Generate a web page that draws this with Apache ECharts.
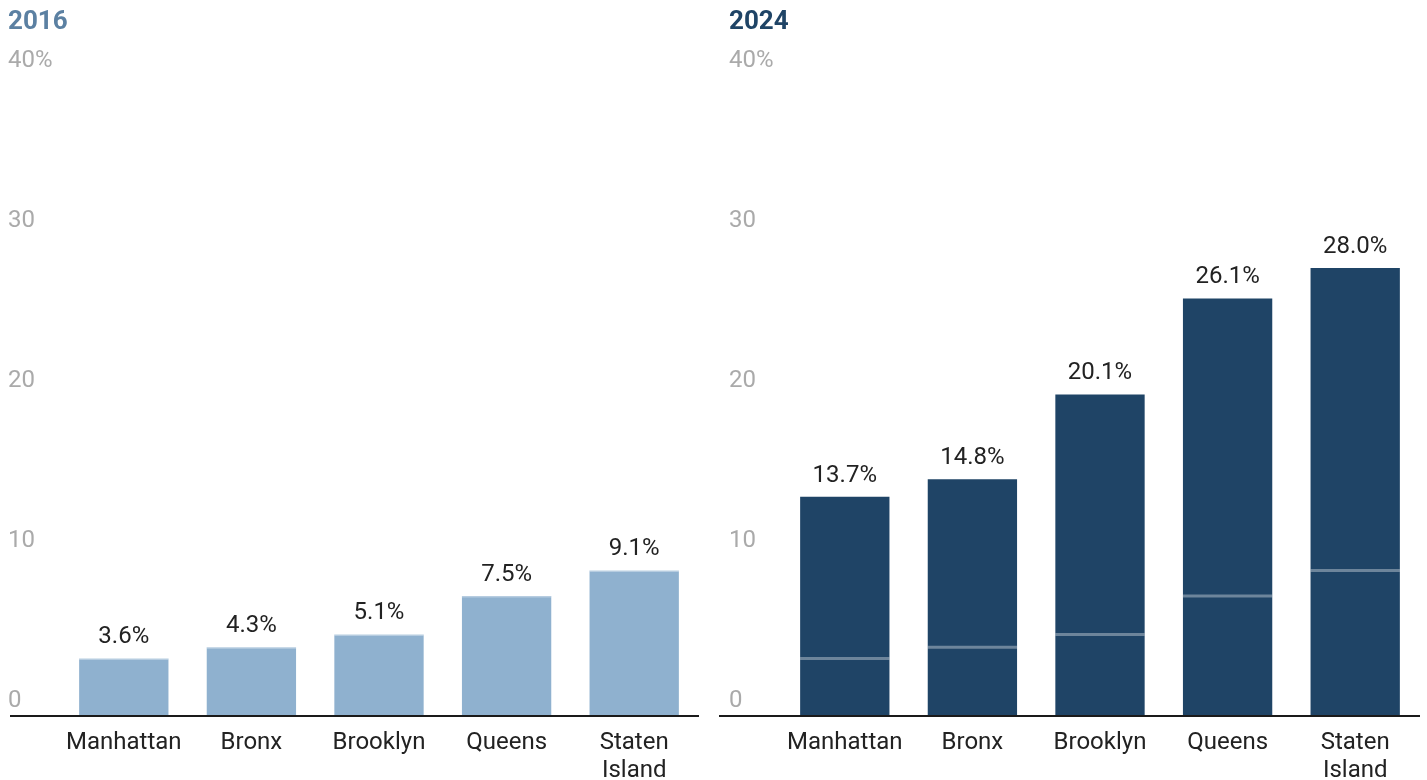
<!DOCTYPE html>
<html lang="en">
<head>
    <meta charset="UTF-8">
    <title>Boroughs 2016 vs 2024</title>
    <script src="https://cdn.jsdelivr.net/npm/echarts@6/dist/echarts.min.js"></script>
    <style>
        html, body { margin: 0; padding: 0; background: #fff; }
    </style>
</head>
<body>
<div id="main" style="width: 1427px;height:780px;"></div>
<script>
    var boroughs = ['Manhattan', 'Bronx', 'Brooklyn', 'Queens', 'Staten\nIsland'];
    var values2016 = [3.6, 4.3, 5.1, 7.5, 9.1];
    var values2024 = [13.7, 14.8, 20.1, 26.1, 28.0];
    var yTicks = [0, 10, 20, 30, 40];

    var font = 'Roboto';
    var myChart = echarts.init(document.getElementById('main'));

    // thin light stripe marking the 2016 level
    function renderMarker(params, api) {
        var p = api.coord([api.value(0), api.value(1)]);
        var w = api.size([1, 0])[0] * 0.7;
        return {
            type: 'rect',
            shape: {x: p[0] - w / 2, y: p[1] - 1.5, width: w, height: 3},
            style: {fill: 'rgba(255,255,255,0.35)'}
        };
    }

    var markerData = values2016.map(function (v, i) { return [i, v]; });

    function yAxis(idx) {
        return {
            type: 'value',
            gridIndex: idx,
            min: yTicks[0],
            max: yTicks[yTicks.length - 1],
            interval: 10,
            axisLine: {show: false},
            axisTick: {show: false},
            splitLine: {show: false},
            axisLabel: {
                align: 'left',
                verticalAlign: 'bottom',
                margin: 52,
                padding: [0, 0, 3, 0],
                fontFamily: font,
                fontSize: 24,
                color: '#aaaaaa',
                formatter: function (v) { return v === 40 ? v + '%' : v; }
            }
        };
    }

    function xAxis(idx) {
        return {
            type: 'category',
            gridIndex: idx,
            data: boroughs,
            axisLine: {show: false},
            axisTick: {show: false},
            axisLabel: {
                interval: 0,
                margin: 13,
                fontFamily: font,
                fontSize: 24,
                lineHeight: 28,
                color: '#222'
            }
        };
    }

    function barLabel() {
        return {
            show: true,
            position: 'top',
            distance: 9,
            fontFamily: font,
            fontSize: 24,
            color: '#222',
            formatter: function (p) { return p.value.toFixed(1) + '%'; }
        };
    }

    var option = {
        animation: false,
        title: [
            {text: '2016', left: 3, top: 4, textStyle: {fontFamily: font, fontSize: 26, fontWeight: 'bold', color: '#5b80a2'}},
            {text: '2024', left: 724, top: 4, textStyle: {fontFamily: font, fontSize: 26, fontWeight: 'bold', color: '#1f4466'}}
        ],
        grid: [
            {left: 60, width: 638, top: 76, bottom: 64, outerBoundsMode: 'none'},
            {left: 781, width: 638, top: 76, bottom: 64, outerBoundsMode: 'none'}
        ],
        xAxis: [xAxis(0), xAxis(1)],
        yAxis: [yAxis(0), yAxis(1)],
        graphic: [
            {type: 'line', shape: {x1: 10, y1: 716, x2: 699, y2: 716}, style: {stroke: '#1a1a1a', lineWidth: 2}, z: 10},
            {type: 'line', shape: {x1: 719, y1: 716, x2: 1420, y2: 716}, style: {stroke: '#1a1a1a', lineWidth: 2}, z: 10}
        ],
        series: [
            {
                name: '2016',
                type: 'bar',
                xAxisIndex: 0,
                yAxisIndex: 0,
                barWidth: '70%',
                data: values2016,
                itemStyle: {color: '#8fb1cf'},
                label: barLabel()
            },
            {
                type: 'custom',
                xAxisIndex: 0,
                yAxisIndex: 0,
                renderItem: renderMarker,
                data: markerData,
                z: 5
            },
            {
                name: '2024',
                type: 'bar',
                xAxisIndex: 1,
                yAxisIndex: 1,
                barWidth: '70%',
                data: values2024,
                itemStyle: {color: '#1f4466'},
                label: barLabel()
            },
            {
                type: 'custom',
                xAxisIndex: 1,
                yAxisIndex: 1,
                renderItem: renderMarker,
                data: markerData,
                z: 5
            }
        ]
    };
    myChart.setOption(option);
</script>
</body>
</html>
